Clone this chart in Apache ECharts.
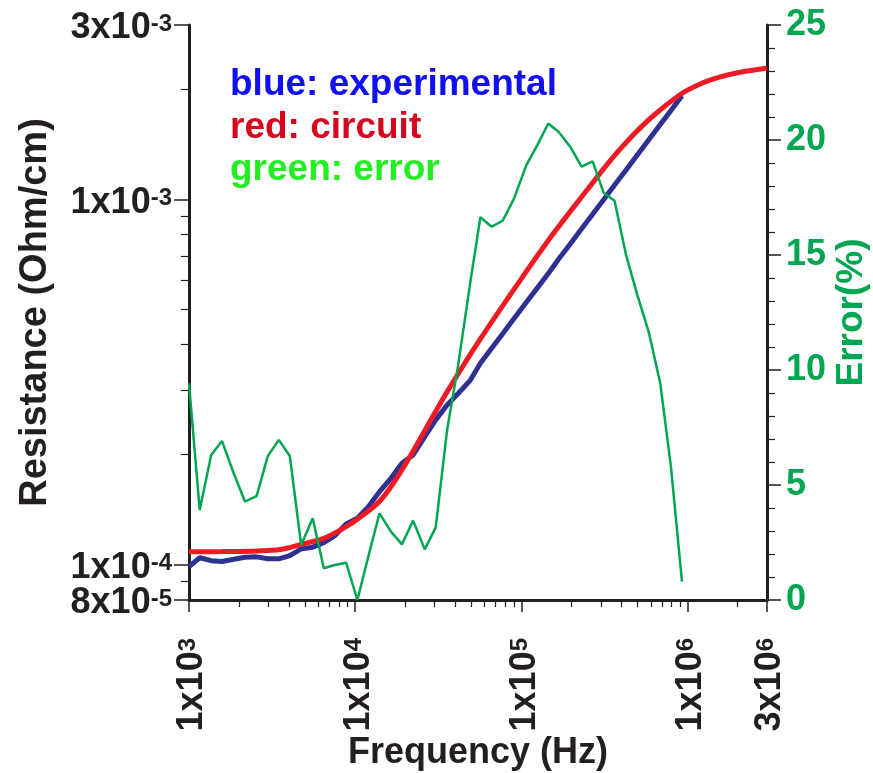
<!DOCTYPE html>
<html>
<head>
<meta charset="utf-8">
<script src="https://cdn.jsdelivr.net/npm/echarts@6/dist/echarts.min.js"></script>
<style>
  html, body { margin: 0; padding: 0; background: #ffffff; }
  #chart { width: 873px; height: 773px; }
</style>
</head>
<body>
<div id="chart"></div>
<script>
// Frequency grid (Hz) of the measurement and of the error curve
const freqMeasured = [1000, 1160, 1360, 1580, 1860, 2170, 2550, 2980, 3470, 4040,
  4730, 5550, 6470, 7530, 8820, 10300, 12000, 14000, 16400, 19100,
  22300, 26200, 30500, 35700, 41600, 49300, 56600, 66200, 77100, 89800,
  107000, 125000, 145000, 167000, 195000, 230000, 268000, 312000, 363000, 426000,
  496000, 582000, 684000, 793000, 924000];

// Measured resistance (Ohm/cm)
const resExperimental = [9.87e-5, 1.044e-4, 1.025e-4, 1.02e-4, 1.034e-4, 1.047e-4, 1.05e-4, 1.037e-4, 1.037e-4, 1.058e-4,
  1.104e-4, 1.116e-4, 1.148e-4, 1.2e-4, 1.292e-4, 1.34e-4, 1.441e-4, 1.584e-4, 1.723e-4, 1.894e-4,
  1.995e-4, 2.24e-4, 2.49e-4, 2.735e-4, 2.94e-4, 3.2e-4, 3.557e-4, 3.91e-4, 4.285e-4, 4.70e-4,
  5.225e-4, 5.73e-4, 6.26e-4, 6.85e-4, 7.51e-4, 8.30e-4, 9.10e-4, 9.97e-4, 1.094e-3, 1.203e-3,
  1.319e-3, 1.453e-3, 1.602e-3, 1.751e-3, 1.921e-3];

// Relative error between measurement and circuit model (%)
const errorPct = [9.42, 3.91, 6.3, 6.91, 5.5, 4.28, 4.52, 6.26, 6.96, 6.26,
  2.39, 3.55, 1.38, 1.52, 1.62, 0, 1.9, 3.77, 2.97, 2.42,
  3.45, 2.2, 3.16, 7.39, 10.2, 13.84, 16.64, 16.23, 16.49, 17.42,
  18.91, 19.8, 20.72, 20.36, 19.74, 18.84, 19.07, 17.71, 17.36, 15,
  13.3, 11.67, 9.42, 5.8, 0.8];

// Circuit model resistance (Ohm/cm)
const freqCircuit = [1000, 1590, 2570, 3550, 4730, 6470, 8820, 10300, 14200, 19100,
  26400, 35700, 56600, 98500, 156000, 248000, 358000, 473000, 624000, 903000,
  1190000, 1570000, 2070000, 3000000];
const resCircuit = [1.084e-4, 1.086e-4, 1.09e-4, 1.10e-4, 1.136e-4, 1.18e-4, 1.27e-4, 1.33e-4, 1.50e-4, 1.817e-4,
  2.34e-4, 2.97e-4, 4.146e-4, 6.01e-4, 8.07e-4, 1.06e-3, 1.308e-3, 1.504e-3, 1.696e-3, 1.936e-3,
  2.068e-3, 2.162e-3, 2.227e-3, 2.284e-3];

// Axis ticks and labels
const freqMajor = [1000, 10000, 100000, 1000000, 3000000];
const freqMinor = [2e3, 3e3, 4e3, 5e3, 6e3, 7e3, 8e3, 9e3,
  2e4, 3e4, 4e4, 5e4, 6e4, 7e4, 8e4, 9e4,
  2e5, 3e5, 4e5, 5e5, 6e5, 7e5, 8e5, 9e5, 2e6];
const resMajor = [8e-5, 1e-4, 1e-3, 3e-3];
const resLabels = [1e-4, 1e-3, 3e-3];
const resBottomLabel = [8e-5];
const resMinor = [9e-5, 2e-4, 3e-4, 4e-4, 5e-4, 6e-4, 7e-4, 8e-4, 9e-4, 2e-3];

const INK = '#231f20';
const GREEN = '#00a651';
const FONT = '"Liberation Sans", Arial, Helvetica, sans-serif';

function pairs(xs, ys) { return xs.map((x, i) => [x, ys[i]]); }

// "m x 10^e" label with a raised exponent
function sciLabel(v) {
  const e = Math.floor(Math.log10(v) + 1e-9);
  const m = Math.round(v / Math.pow(10, e));
  return '{m|' + m + 'x10}{s|' + e + '}';
}

function sciRich(color) {
  return {
    m: { fontSize: 36, fontWeight: 'bold', fontFamily: FONT, color: color, lineHeight: 26, padding: [7, 0, 0, 0] },
    s: { fontSize: 24, fontWeight: 'bold', fontFamily: FONT, color: color, lineHeight: 20, verticalAlign: 'top' }
  };
}

const chart = echarts.init(document.getElementById('chart'), null, { renderer: 'canvas' });

chart.setOption({
  animation: false,
  backgroundColor: '#ffffff',
  grid: { left: 189, right: 106, top: 25, bottom: 173, containLabel: false, outerBoundsMode: 'none' },
  xAxis: [
    {
      type: 'log', logBase: 10, min: 1000, max: 3000000, position: 'bottom',
      name: 'Frequency (Hz)', nameLocation: 'middle', nameGap: 135, nameMoveOverlap: false,
      nameTextStyle: { fontSize: 36, fontWeight: 'bold', fontFamily: FONT, color: INK },
      axisLine: { show: true, onZero: false, lineStyle: { color: INK, width: 3 } },
      axisTick: { show: true, length: 12, customValues: freqMajor, lineStyle: { color: INK, width: 1.5 } },
      axisLabel: { show: true, customValues: freqMajor, rotate: 90, margin: 38, hideOverlap: false,
        showMinLabel: true, showMaxLabel: true, formatter: sciLabel, rich: sciRich(INK) },
      splitLine: { show: false }
    },
    {
      type: 'log', logBase: 10, min: 1000, max: 3000000, position: 'bottom',
      axisLine: { show: false },
      axisTick: { show: true, length: 7, customValues: freqMinor, lineStyle: { color: INK, width: 1.2 } },
      axisLabel: { show: false },
      splitLine: { show: false }
    }
  ],
  yAxis: [
    {
      type: 'log', logBase: 10, min: 8e-5, max: 3e-3, position: 'left',
      name: 'Resistance (Ohm/cm)', nameLocation: 'middle', nameGap: 134, nameMoveOverlap: false,
      nameTextStyle: { fontSize: 38, fontWeight: 'bold', fontFamily: FONT, color: INK },
      axisLine: { show: true, onZero: false, lineStyle: { color: INK, width: 3 } },
      axisTick: { show: true, length: 15, customValues: resMajor, lineStyle: { color: INK, width: 1.5 } },
      axisLabel: { show: true, customValues: resLabels, margin: 17, hideOverlap: false,
        showMinLabel: true, showMaxLabel: true, formatter: sciLabel, rich: sciRich(INK) },
      splitLine: { show: false }
    },
    {
      type: 'value', min: 0, max: 25, interval: 5, position: 'right',
      name: 'Error(%)', nameLocation: 'middle', nameGap: 66, nameMoveOverlap: false,
      nameTextStyle: { fontSize: 37, fontWeight: 'bold', fontFamily: FONT, color: GREEN },
      axisLine: { show: true, onZero: false, lineStyle: { color: INK, width: 3 } },
      axisTick: { show: true, length: 14, lineStyle: { color: INK, width: 1.5 } },
      minorTick: { show: true, splitNumber: 5, length: 8, lineStyle: { color: INK, width: 1.2 } },
      axisLabel: { show: true, margin: 19, fontSize: 36, fontWeight: 'bold', fontFamily: FONT, color: GREEN },
      splitLine: { show: false },
      minorSplitLine: { show: false }
    },
    {
      // minor ticks of the resistance axis, plus its bottom label
      type: 'log', logBase: 10, min: 8e-5, max: 3e-3, position: 'left',
      axisLine: { show: false },
      axisTick: { show: true, length: 8, customValues: resMinor, lineStyle: { color: INK, width: 1.2 } },
      axisLabel: { show: true, customValues: resBottomLabel, margin: 17, hideOverlap: false,
        showMinLabel: true, formatter: sciLabel, rich: sciRich(INK) },
      splitLine: { show: false }
    }
  ],
  series: [
    {
      name: 'experimental', type: 'line', xAxisIndex: 0, yAxisIndex: 0,
      data: pairs(freqMeasured, resExperimental),
      symbol: 'none', lineStyle: { color: '#2e3192', width: 5 }, z: 2
    },
    {
      name: 'circuit', type: 'line', xAxisIndex: 0, yAxisIndex: 0,
      data: pairs(freqCircuit, resCircuit),
      symbol: 'none', smooth: 0.35, lineStyle: { color: '#ed1c24', width: 5 }, z: 3
    },
    {
      name: 'error', type: 'line', xAxisIndex: 0, yAxisIndex: 1,
      data: pairs(freqMeasured, errorPct),
      symbol: 'none', lineStyle: { color: GREEN, width: 2.5 }, z: 4
    }
  ],
  graphic: [
    { type: 'text', left: 230, top: 66, style: { text: 'blue: experimental', fill: '#1010f0', font: 'bold 37px ' + FONT } },
    { type: 'text', left: 230, top: 109, style: { text: 'red: circuit', fill: '#d7061c', font: 'bold 37px ' + FONT } },
    { type: 'text', left: 230, top: 151, style: { text: 'green: error', fill: '#22ee22', font: 'bold 37px ' + FONT } }
  ]
});
</script>
</body>
</html>
